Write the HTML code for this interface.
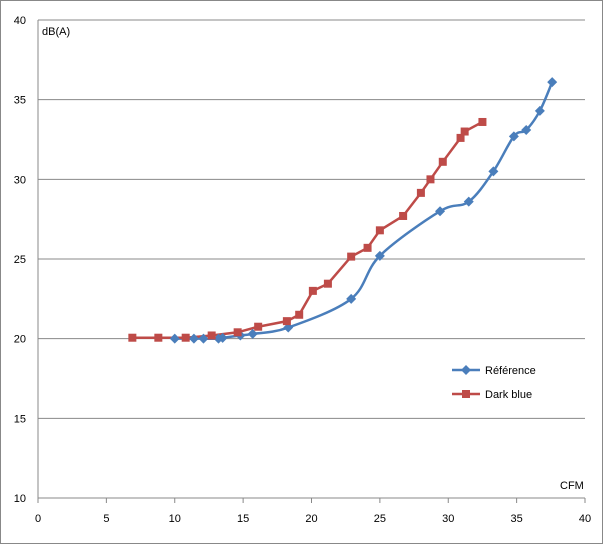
<!DOCTYPE html><html><head><meta charset="utf-8"><style>body{margin:0;background:#fff}svg{font-family:"Liberation Sans",sans-serif;font-size:11px}</style></head><body>
<svg width="603" height="544">
<rect x="0.5" y="0.5" width="602" height="543" fill="#fff" stroke="#888"/>
<g id="grid"></g><g id="axes"></g><g id="series"></g>
<text x="42" y="35" fill="#000">dB(A)</text>
<text x="560" y="489" fill="#000">CFM</text>
<g>
<line x1="452" y1="370" x2="480" y2="370" stroke="#4a7ebb" stroke-width="2.5"/><path d="M466 365l5 5-5 5-5-5z" fill="#4a7ebb"/>
<text x="485" y="374">Référence</text>
<line x1="452" y1="394" x2="480" y2="394" stroke="#be4b48" stroke-width="2.5"/><rect x="462" y="390" width="8" height="8" fill="#be4b48"/>
<text x="485" y="398">Dark blue</text>
</g>
</svg>
<script>
const xTicks=[0,5,10,15,20,25,30,35,40];
const yTicks=[10,15,20,25,30,35,40];
const refX=[10.0,11.4,12.1,13.2,13.5,14.8,15.7,18.3,22.9,25.0,29.4,31.5,33.3,34.8,35.7,36.7,37.6];
const refY=[20.0,20.0,20.0,20.0,20.05,20.2,20.3,20.7,22.5,25.2,28.0,28.6,30.5,32.7,33.1,34.3,36.1];
const dbX=[6.9,8.8,10.8,12.7,14.6,16.1,18.2,19.1,20.1,21.2,22.9,24.1,25.0,26.7,28.0,28.7,29.6,30.9,31.2,32.5];
const dbY=[20.06,20.06,20.06,20.2,20.4,20.75,21.1,21.5,23.0,23.45,25.15,25.7,26.8,27.7,29.15,30.0,31.1,32.6,33.0,33.6];
const X=v=>38+v*(585-38)/40, Y=v=>498-(v-10)*(498-20)/30;
const NS='http://www.w3.org/2000/svg';
function mk(t,a,p){const e=document.createElementNS(NS,t);for(const k in a)e.setAttribute(k,a[k]);p.appendChild(e);return e;}
const g=document.getElementById('grid'),ax=document.getElementById('axes'),s=document.getElementById('series');
yTicks.forEach(t=>{const l=mk('line',{x1:38,x2:585,y1:Y(t),y2:Y(t),stroke:'#888'},g);


const tx=mk('text',{x:26,y:Y(t)+4,'text-anchor':'end'},ax);tx.textContent=t;

});
mk('line',{x1:38,x2:38,y1:20,y2:498,stroke:'#888'},ax);
xTicks.forEach(t=>{mk('line',{x1:X(t),x2:X(t),y1:498,y2:503,stroke:'#888'},ax);
const tx=mk('text',{x:X(t),y:522,'text-anchor':'middle'},ax);tx.textContent=t;

});
// reference smooth
const P=refX.map((x,i)=>[X(x),Y(refY[i])]);
let d='M'+P[0];
for(let i=0;i<P.length-1;i++){const p0=P[Math.max(0,i-1)],p1=P[i],p2=P[i+1],p3=P[Math.min(P.length-1,i+2)];
d+=` C${p1[0]+(p2[0]-p0[0])/6},${p1[1]+(p2[1]-p0[1])/6} ${p2[0]-(p3[0]-p1[0])/6},${p2[1]-(p3[1]-p1[1])/6} ${p2[0]},${p2[1]}`;}
const rl=mk('path',{d:d,fill:'none',stroke:'#4a7ebb','stroke-width':2.5},s);


const dl=mk('polyline',{points:dbX.map((x,i)=>X(x)+','+Y(dbY[i])).join(' '),fill:'none',stroke:'#be4b48','stroke-width':2.5},s);


P.forEach(p=>{const m=mk('path',{d:`M${p[0]} ${p[1]-5}l5 5-5 5-5-5z`,fill:'#4a7ebb'},s);

});
dbX.forEach((x,i)=>{const m=mk('rect',{x:X(x)-4,y:Y(dbY[i])-4,width:8,height:8,fill:'#be4b48'},s);

});
</script></body></html>
